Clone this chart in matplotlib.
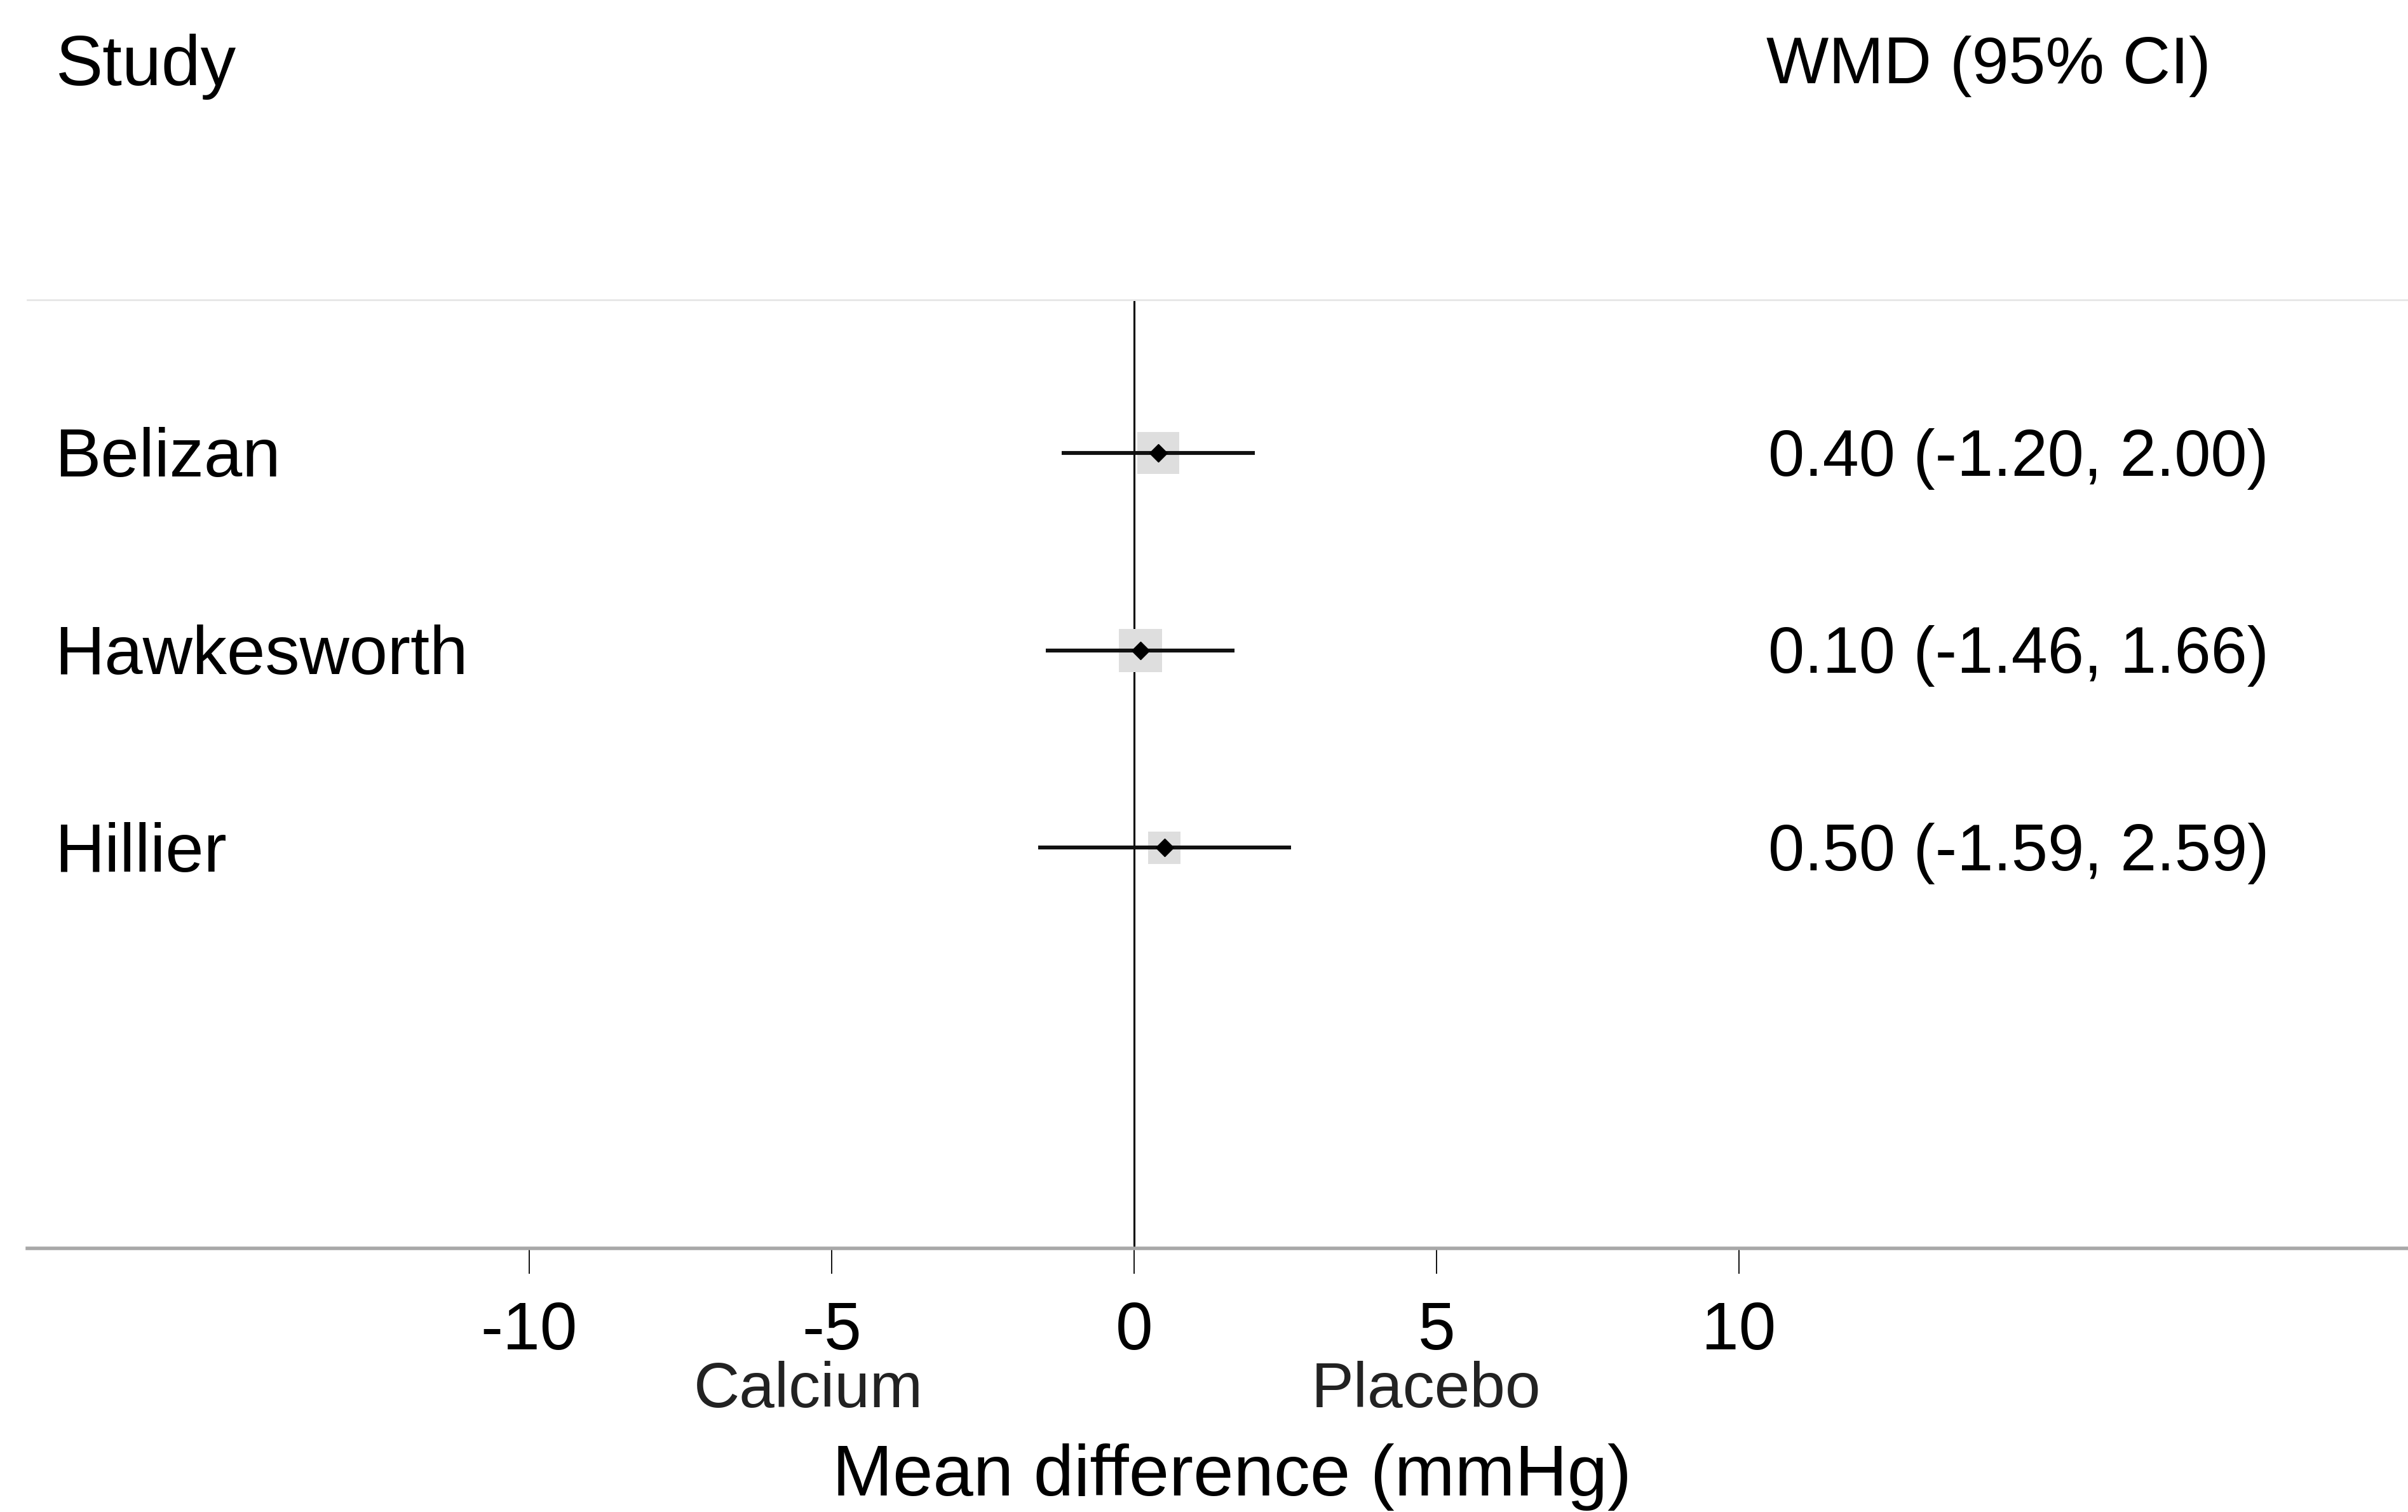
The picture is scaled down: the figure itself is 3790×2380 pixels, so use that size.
import numpy as np
import matplotlib.pyplot as plt

plt.rcParams['font.family'] = ['Liberation Sans', 'DejaVu Sans']

# study results (weighted mean difference, 95% CI)
studies = ['Belizan', 'Hawkesworth', 'Hillier']
wmd = [0.40, 0.10, 0.50]
ci_low = [-1.20, -1.46, -1.59]
ci_high = [2.00, 1.66, 2.59]
ticks = [-10, -5, 0, 5, 10]
tick_labels = ['-10', '-5', '0', '5', '10']

rows = np.arange(len(studies))
est = np.array(wmd)
lo = np.array(ci_low)
hi = np.array(ci_high)

# box size from inverse variance weight
se = (hi - lo) / (2 * 1.96)
w = 1 / se ** 2
side = 49 * np.sqrt(w / w.max())

fig = plt.figure(figsize=(37.91, 23.80), dpi=100)
ax = fig.add_axes([0.0113, 0.1744, 0.9887, 0.6273])

ax.axvline(0, color='black', lw=2.2, zorder=1)
ax.scatter(est, rows, marker='s', s=side ** 2, color='#dedede', lw=0, zorder=2)
ax.hlines(rows, lo, hi, color='#111111', lw=4.4, zorder=3)
ax.plot(est, rows, 'D', color='black', markersize=14, zorder=4)

for i in range(len(studies)):
    ax.text(-17.85, rows[i] + 0.03, studies[i], fontsize=78, va='center', ha='left')
    ax.text(10.48, rows[i] + 0.03, '%.2f (%.2f, %.2f)' % (wmd[i], ci_low[i], ci_high[i]),
            fontsize=74, va='center', ha='left')

ax.set_xlim(-18.30, 21.07)
ax.set_ylim(4.03, -0.776)

ax.spines['left'].set_visible(False)
ax.spines['right'].set_visible(False)
ax.spines['top'].set_color('#e6e6e6')
ax.spines['top'].set_linewidth(2)
ax.spines['bottom'].set_color('#a8a8a8')
ax.spines['bottom'].set_linewidth(4)

ax.set_yticks([])
ax.set_xticks(ticks)
ax.set_xticklabels(tick_labels)
ax.tick_params(axis='x', length=29, width=1.3, pad=30, labelsize=76, color='black')

ax.text(-5.38, -0.150, 'Calcium', transform=ax.get_xaxis_transform(),
        fontsize=72, ha='center', va='center', color='#222222')
ax.text(4.83, -0.150, 'Placebo', transform=ax.get_xaxis_transform(),
        fontsize=72, ha='center', va='center', color='#222222')

ax.set_xlabel('Mean difference (mmHg)', fontsize=82)
ax.xaxis.set_label_coords(0.506, -0.206)

fig.text(0.0232, 0.956, 'Study', fontsize=80, va='center', ha='left')
fig.text(0.7333, 0.956, 'WMD (95% CI)', fontsize=75, va='center', ha='left')

plt.savefig('out.png', dpi=100, facecolor='white')
